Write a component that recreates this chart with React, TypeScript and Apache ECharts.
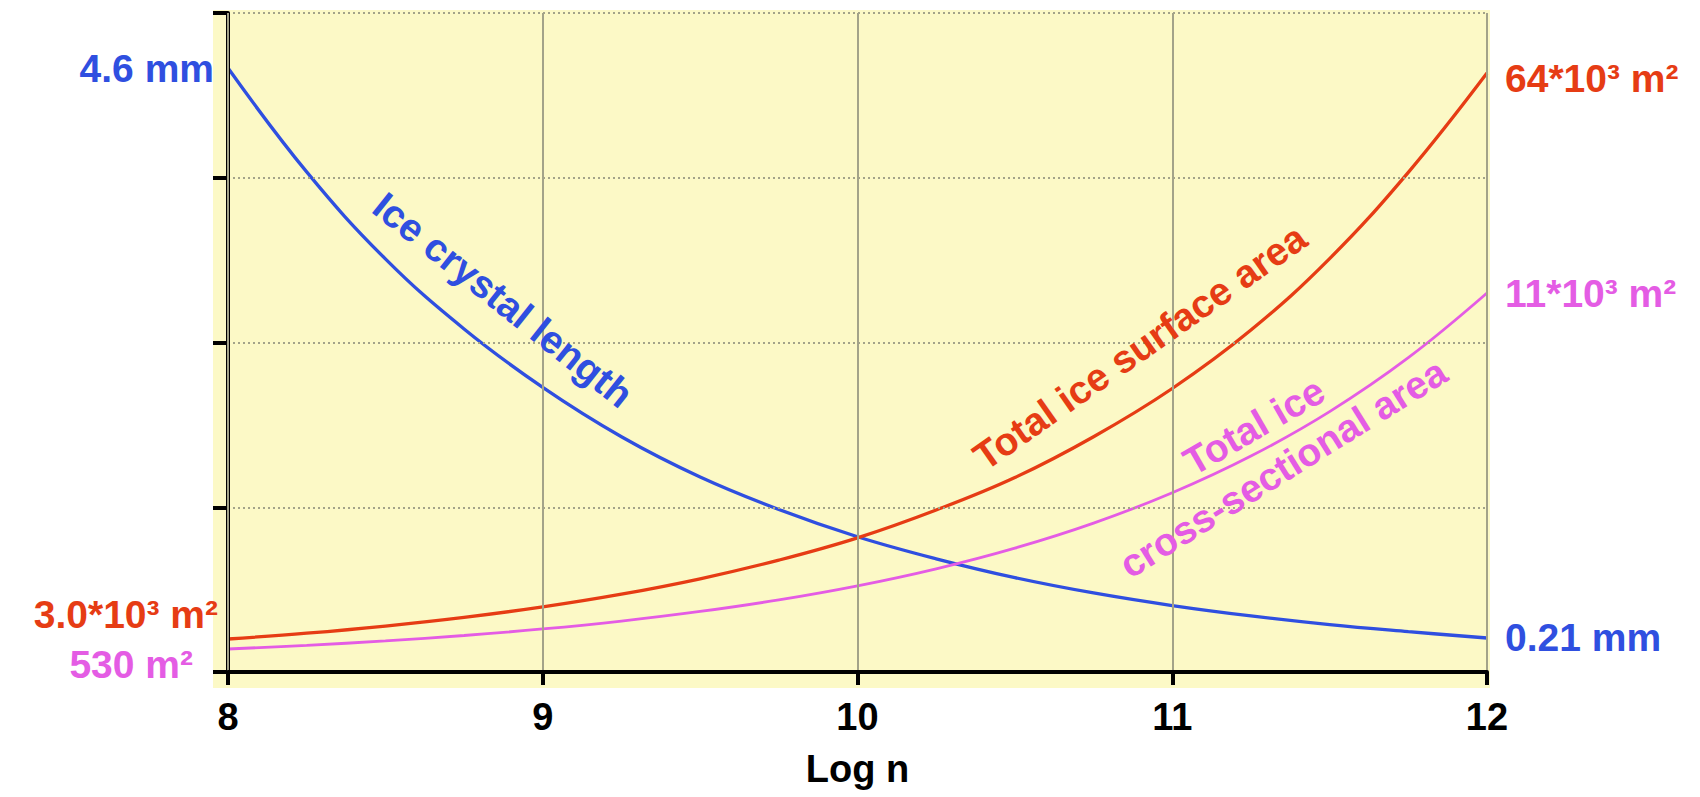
import React, { useEffect, useRef } from "react";
import * as echarts from "echarts";

// ---- data ----
const logN = [8, 8.25, 8.5, 8.75, 9, 9.25, 9.5, 9.75, 10, 10.25, 10.5, 10.75, 11, 11.25, 11.5, 11.75, 12];
// Ice crystal length, mm
const crystalLength = [4.6, 3.8, 3.13, 2.59, 2.14, 1.76, 1.45, 1.2, 0.99, 0.82, 0.675, 0.557, 0.46, 0.38, 0.313, 0.259, 0.21];
// Total ice surface area, 10^3 m²
const surfaceArea = [3.0, 3.63, 4.4, 5.33, 6.46, 7.83, 9.49, 11.5, 13.9, 16.9, 20.4, 24.8, 30.0, 36.3, 44.0, 53.3, 64.0];
// Total ice cross-sectional area, m²
const crossSection = [530, 642, 778, 942, 1142, 1383, 1676, 2031, 2460, 2980, 3611, 4375, 5300, 6421, 7779, 9425, 11400];

const xTicks = [8, 9, 10, 11, 12];
const xTitle = "Log n";

const lengthStartLabel = "4.6 mm";
const lengthEndLabel = "0.21 mm";
const surfaceStartLabel = "3.0*10³ m²";
const surfaceEndLabel = "64*10³ m²";
const crossStartLabel = "530 m²";
const crossEndLabel = "11*10³ m²";

const curveNames = {
  length: "Ice crystal length",
  surface: "Total ice surface area",
  crossTop: "Total ice",
  crossBottom: "cross-sectional area",
};

const FONT = '"Liberation Sans", Arial, Helvetica, sans-serif';
const BLUE = "#2f4fe0";
const RED = "#e63c14";
const MAGENTA = "#e45ce4";
const BG = "#fcf9c6";
const GRIDC = "#a3a389";

function makeData(values: number[], startLbl: any, endLbl: any) {
  return logN.map((x, i) => {
    const item: any = { value: [x, values[i]] };
    if (i === 0) item.label = startLbl;
    if (i === values.length - 1) item.label = endLbl;
    return item;
  });
}

function lbl(text: string, color: string, position: string, distance: number, offset: number[] = [0, 0]) {
  return {
    show: true,
    position,
    distance,
    offset,
    formatter: text,
    color,
    fontFamily: FONT,
    fontWeight: "bold",
    fontSize: 39,
  };
}

export default function App() {
  const ref = useRef<HTMLDivElement>(null);

  useEffect(() => {
    if (!ref.current) return;
    const chart = echarts.init(ref.current, undefined, { renderer: "svg" });

    const lineSeries = (name: string, values: number[], yIdx: number, color: string, width: number, startLbl: any, endLbl: any) => ({
      name,
      type: "line",
      xAxisIndex: 0,
      yAxisIndex: yIdx,
      data: makeData(values, startLbl, endLbl),
      smooth: 0.4,
      showSymbol: true,
      showAllSymbol: true,
      symbol: "circle",
      symbolSize: 0,
      lineStyle: { color, width },
      itemStyle: { color },
      label: { show: false },
      silent: true,
      z: 3,
    });

    const textEl = (text: string, x: number, y: number, deg: number, color: string) => ({
      type: "text",
      x,
      y,
      rotation: (deg * Math.PI) / 180,
      z: 50,
      style: {
        text,
        fill: color,
        font: `bold 39px ${FONT}`,
        align: "center",
        verticalAlign: "middle",
      },
    });

    chart.setOption({
      animation: false,
      backgroundColor: "#ffffff",
      grid: { left: 228, right: 213, top: 13, bottom: 125, containLabel: false },
      xAxis: {
        type: "value",
        min: xTicks[0],
        max: xTicks[xTicks.length - 1],
        interval: 1,
        name: xTitle,
        nameLocation: "middle",
        nameGap: 78,
        nameTextStyle: { color: "#000", fontFamily: FONT, fontWeight: "bold", fontSize: 38 },
        axisLine: { show: true, onZero: false, lineStyle: { color: "#000", width: 4 } },
        axisTick: { show: true, length: 13, lineStyle: { color: "#000", width: 4 } },
        axisLabel: { color: "#000", fontFamily: FONT, fontWeight: "bold", fontSize: 38, margin: 26 },
        splitLine: { show: true, lineStyle: { color: GRIDC, width: 2 } },
        z: 5,
      },
      yAxis: [
        {
          type: "value",
          min: 0,
          max: 4,
          interval: 1,
          position: "left",
          axisLine: { show: true, lineStyle: { color: "#000", width: 4 } },
          axisTick: { show: true, length: 15, lineStyle: { color: "#000", width: 4 } },
          axisLabel: { show: false },
          splitLine: { show: true, lineStyle: { color: GRIDC, width: 2, type: [2, 3] } },
          z: 4,
        },
        { type: "value", show: false, min: -0.052, max: 5.024, splitLine: { show: false } },
        { type: "value", show: false, min: -0.556, max: 70.47, splitLine: { show: false } },
        { type: "value", show: false, min: -172, max: 19950, splitLine: { show: false } },
      ],
      graphic: [
        { type: "rect", z: -10, shape: { x: 213, y: 10, width: 1277, height: 678 }, style: { fill: BG } },
        textEl(curveNames.length, 503, 300, -38.5, BLUE),
        textEl(curveNames.surface, 1140, 347, 35, RED),
        textEl(curveNames.crossTop, 1254, 426, 30, MAGENTA),
        textEl(curveNames.crossBottom, 1283, 468, 32, MAGENTA),
      ],
      series: [
        lineSeries(curveNames.length, crystalLength, 1, BLUE, 3.3,
          lbl(lengthStartLabel, BLUE, "left", 14),
          lbl(lengthEndLabel, BLUE, "right", 18)),
        lineSeries(curveNames.surface, surfaceArea, 2, RED, 3.3,
          lbl(surfaceStartLabel, RED, "left", 10, [0, -25]),
          lbl(surfaceEndLabel, RED, "right", 18, [0, 5])),
        lineSeries("Total ice cross-sectional area", crossSection, 3, MAGENTA, 2.8,
          lbl(crossStartLabel, MAGENTA, "left", 35, [0, 15]),
          lbl(crossEndLabel, MAGENTA, "right", 18, [0, 0])),
      ],
    });

    return () => chart.dispose();
  }, []);

  return (
    <div
      ref={ref}
      style={{ position: "fixed", left: 0, top: 0, width: "1700px", height: "797px", background: "#fff" }}
    />
  );
}
